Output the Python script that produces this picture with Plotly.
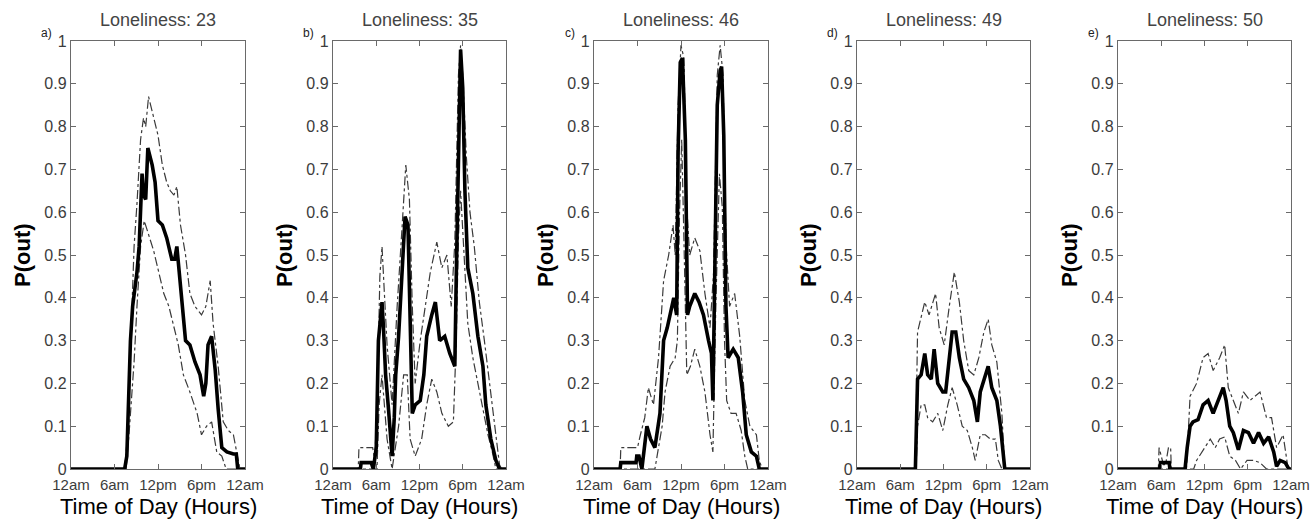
import plotly.graph_objects as go

# ---------------- data (hours of day, P(out)) ----------------
TITLES = ["Loneliness: 23", "Loneliness: 35", "Loneliness: 46", "Loneliness: 49", "Loneliness: 50"]
LETTERS = ["a)", "b)", "c)", "d)", "e)"]
HOUR_TICKS = [0, 6, 12, 18, 24]
HOUR_LABELS = ["12am", "6am", "12pm", "6pm", "12am"]
P_TICKS = [0, 0.1, 0.2, 0.3, 0.4, 0.5, 0.6, 0.7, 0.8, 0.9, 1]
P_LABELS = ["0", "0.1", "0.2", "0.3", "0.4", "0.5", "0.6", "0.7", "0.8", "0.9", "1"]

# panel a
a_mean_h = [0, 7.4, 7.7, 8.0, 8.2, 8.5, 8.8, 9.1, 9.4, 9.6, 9.8, 10.0, 10.3, 10.6, 10.9, 11.2, 11.6, 12.0, 12.6, 13.2, 13.9, 14.3, 14.6, 15.1, 15.5, 15.8, 16.4, 17.1, 17.8, 18.3, 18.6, 18.9, 19.4, 19.9, 20.3, 20.8, 21.5, 22.4, 22.8, 23.0, 24]
a_mean_v = [0, 0, 0.03, 0.2, 0.3, 0.38, 0.42, 0.46, 0.52, 0.6, 0.69, 0.64, 0.63, 0.75, 0.73, 0.71, 0.67, 0.58, 0.57, 0.54, 0.49, 0.49, 0.52, 0.43, 0.36, 0.30, 0.29, 0.25, 0.22, 0.17, 0.2, 0.29, 0.31, 0.23, 0.14, 0.05, 0.04, 0.035, 0.035, 0, 0]
a_up_h = [0, 7.4, 7.8, 8.2, 8.7, 9.1, 9.6, 10.0, 10.3, 10.7, 11.0, 11.4, 12.0, 12.6, 13.2, 13.7, 14.2, 14.6, 15.1, 15.8, 16.4, 17.1, 18.0, 18.6, 19.2, 19.6, 20.3, 21.0, 21.7, 22.4, 22.8, 23.3, 24]
a_up_v = [0, 0, 0.08, 0.3, 0.52, 0.62, 0.77, 0.82, 0.8, 0.87, 0.85, 0.82, 0.78, 0.71, 0.67, 0.65, 0.64, 0.66, 0.57, 0.5, 0.41, 0.38, 0.36, 0.38, 0.44, 0.34, 0.24, 0.11, 0.09, 0.08, 0.04, 0, 0]
a_lo_h = [0, 7.6, 8.0, 8.7, 9.1, 9.6, 10.1, 10.7, 11.4, 12.1, 12.8, 13.5, 14.2, 14.8, 15.5, 16.4, 17.4, 18.0, 18.7, 19.4, 20.1, 20.8, 21.4, 24]
a_lo_v = [0, 0, 0.08, 0.25, 0.38, 0.52, 0.58, 0.55, 0.51, 0.46, 0.41, 0.38, 0.33, 0.29, 0.22, 0.18, 0.13, 0.08, 0.1, 0.11, 0.04, 0.03, 0, 0]

# panel b
b_mean_h = [0, 3.8, 3.9, 5.3, 5.6, 6.0, 6.3, 6.6, 6.8, 7.0, 7.3, 7.7, 8.0, 8.2, 8.5, 8.7, 9.1, 9.6, 10.0, 10.4, 10.7, 11.0, 11.4, 12.1, 12.6, 13.0, 13.7, 14.2, 14.8, 15.5, 16.2, 16.9, 17.1, 17.4, 17.7, 18.0, 18.3, 18.7, 19.4, 20.1, 20.8, 21.2, 21.9, 22.6, 23.1, 24]
b_mean_v = [0, 0, 0.015, 0.015, 0, 0.05, 0.3, 0.37, 0.39, 0.33, 0.22, 0.14, 0.08, 0.03, 0.12, 0.22, 0.31, 0.47, 0.59, 0.57, 0.33, 0.13, 0.15, 0.16, 0.22, 0.31, 0.36, 0.39, 0.30, 0.31, 0.27, 0.24, 0.45, 0.77, 0.98, 0.89, 0.65, 0.47, 0.41, 0.31, 0.24, 0.15, 0.07, 0.02, 0, 0]
b_up_h = [0, 3.5, 3.6, 5.5, 5.8, 6.2, 6.5, 6.8, 7.1, 7.5, 8.2, 8.9, 9.6, 10.1, 10.6, 11.0, 11.4, 12.1, 12.8, 13.5, 14.4, 15.1, 15.8, 16.4, 16.9, 17.4, 17.7, 18.0, 18.5, 19.0, 19.6, 20.3, 21.0, 21.7, 22.4, 23.1, 23.4, 24]
b_up_v = [0, 0, 0.05, 0.05, 0.02, 0.2, 0.45, 0.52, 0.42, 0.29, 0.15, 0.38, 0.57, 0.71, 0.63, 0.38, 0.2, 0.30, 0.38, 0.46, 0.53, 0.47, 0.50, 0.38, 0.53, 0.92, 0.99, 0.92, 0.73, 0.60, 0.52, 0.39, 0.30, 0.2, 0.10, 0.01, 0, 0]
b_lo_h = [0, 6.1, 6.4, 6.8, 7.5, 8.2, 9.1, 9.8, 10.3, 10.7, 11.4, 12.3, 13.0, 13.7, 14.4, 15.1, 16.0, 16.7, 17.1, 17.4, 17.7, 18.2, 18.7, 19.4, 20.1, 20.8, 21.5, 22.1, 22.6, 24]
b_lo_v = [0, 0, 0.15, 0.22, 0.07, 0, 0.1, 0.22, 0.22, 0.07, 0.03, 0.07, 0.15, 0.21, 0.18, 0.13, 0.1, 0.11, 0.30, 0.54, 0.65, 0.5, 0.34, 0.26, 0.2, 0.14, 0.08, 0.04, 0, 0]

# panel c
c_mean_h = [0, 3.6, 3.7, 5.8, 5.9, 6.2, 6.6, 7.0, 7.3, 7.8, 8.4, 9.1, 9.6, 10.1, 10.6, 11.0, 11.4, 11.6, 11.9, 12.2, 12.6, 12.9, 13.2, 13.9, 14.5, 15.1, 15.8, 16.2, 16.4, 16.7, 17.0, 17.4, 17.6, 17.9, 18.2, 18.5, 19.2, 19.9, 20.5, 21.0, 21.7, 22.4, 22.8, 24]
c_mean_v = [0, 0, 0.015, 0.015, 0.03, 0.03, 0, 0.06, 0.1, 0.07, 0.05, 0.13, 0.3, 0.33, 0.37, 0.4, 0.36, 0.74, 0.95, 0.96, 0.77, 0.36, 0.38, 0.41, 0.39, 0.36, 0.3, 0.27, 0.16, 0.46, 0.85, 0.93, 0.94, 0.78, 0.38, 0.26, 0.28, 0.26, 0.18, 0.08, 0.04, 0.03, 0, 0]
c_up_h = [0, 3.6, 3.7, 6.0, 6.4, 7.0, 7.5, 8.2, 8.9, 9.6, 10.3, 10.9, 11.2, 11.6, 12.0, 12.4, 12.8, 13.2, 13.9, 14.6, 15.3, 16.0, 16.5, 17.0, 17.4, 17.8, 18.2, 18.7, 19.4, 20.1, 20.8, 21.5, 22.4, 22.8, 23.2, 24]
c_up_v = [0, 0, 0.05, 0.05, 0.08, 0.12, 0.19, 0.15, 0.26, 0.44, 0.5, 0.57, 0.5, 0.85, 0.99, 0.96, 0.61, 0.5, 0.54, 0.51, 0.41, 0.33, 0.46, 0.92, 0.99, 0.92, 0.53, 0.38, 0.41, 0.31, 0.16, 0.1, 0.08, 0.02, 0, 0]
c_lo_h = [0, 8.4, 8.7, 9.4, 9.8, 10.5, 11.2, 11.5, 11.8, 12.1, 12.4, 12.8, 13.3, 13.9, 14.6, 15.3, 16.0, 16.4, 16.8, 17.3, 17.7, 18.0, 18.3, 18.9, 19.6, 20.3, 20.8, 21.2, 24]
c_lo_v = [0, 0, 0.03, 0.1, 0.18, 0.24, 0.26, 0.3, 0.6, 0.77, 0.54, 0.22, 0.24, 0.28, 0.24, 0.18, 0.08, 0.04, 0.38, 0.69, 0.61, 0.3, 0.16, 0.13, 0.13, 0.09, 0.03, 0, 0]

# panel d
d_mean_h = [0, 8.1, 8.4, 8.9, 9.4, 9.8, 10.3, 10.7, 11.2, 11.9, 12.3, 12.8, 13.2, 13.7, 14.2, 14.8, 15.5, 16.2, 16.7, 17.1, 17.6, 18.2, 18.7, 19.4, 19.9, 20.3, 20.5, 24]
d_mean_v = [0, 0, 0.21, 0.22, 0.27, 0.22, 0.21, 0.28, 0.2, 0.18, 0.18, 0.26, 0.32, 0.32, 0.26, 0.21, 0.19, 0.16, 0.11, 0.18, 0.21, 0.24, 0.19, 0.16, 0.1, 0.03, 0, 0]
d_up_h = [0, 8.1, 8.4, 9.4, 10.0, 10.9, 11.4, 12.1, 12.8, 13.5, 14.2, 14.8, 15.5, 16.2, 16.9, 17.6, 18.2, 18.7, 19.4, 20.1, 20.5, 24]
d_up_v = [0, 0, 0.32, 0.39, 0.36, 0.41, 0.33, 0.29, 0.38, 0.46, 0.39, 0.30, 0.23, 0.22, 0.26, 0.32, 0.35, 0.29, 0.25, 0.13, 0, 0]
d_lo_h = [0, 8.2, 8.4, 8.9, 9.4, 9.8, 10.5, 11.2, 11.9, 12.6, 13.2, 13.9, 14.6, 15.3, 16.0, 16.4, 17.1, 17.8, 18.5, 19.2, 19.6, 20.1, 24]
d_lo_v = [0, 0, 0.1, 0.15, 0.15, 0.12, 0.11, 0.13, 0.09, 0.15, 0.19, 0.15, 0.1, 0.09, 0.05, 0.02, 0.08, 0.08, 0.07, 0.07, 0.02, 0, 0]

# panel e
e_mean_h = [0, 5.8, 5.9, 7.1, 7.2, 9.3, 9.6, 10.0, 10.4, 11.1, 11.8, 12.5, 13.2, 13.9, 14.6, 15.0, 15.5, 16.0, 16.7, 17.4, 18.1, 18.8, 19.5, 20.2, 20.9, 21.6, 22.0, 22.5, 23.2, 23.7, 24]
e_mean_v = [0, 0, 0.015, 0.015, 0, 0, 0.05, 0.1, 0.11, 0.115, 0.15, 0.16, 0.13, 0.16, 0.19, 0.16, 0.1, 0.085, 0.045, 0.09, 0.085, 0.06, 0.085, 0.06, 0.075, 0.04, 0.006, 0.02, 0.015, 0, 0]
e_up_h = [0, 5.6, 5.7, 6.3, 6.6, 7.0, 7.3, 7.4, 9.5, 10.0, 10.9, 11.8, 12.5, 13.2, 14.1, 14.8, 15.3, 16.0, 16.7, 17.4, 18.3, 19.0, 19.7, 20.6, 21.3, 22.0, 22.9, 23.6, 24]
e_up_v = [0, 0, 0.05, 0.01, 0.01, 0.05, 0.05, 0, 0, 0.17, 0.2, 0.26, 0.27, 0.23, 0.26, 0.29, 0.19, 0.16, 0.13, 0.18, 0.16, 0.17, 0.18, 0.12, 0.12, 0.05, 0.08, 0, 0]
e_lo_h = [0, 10.5, 10.9, 11.8, 12.8, 13.5, 14.1, 14.8, 15.5, 16.3, 17.0, 17.9, 18.8, 19.7, 20.6, 24]
e_lo_v = [0, 0, 0.02, 0.045, 0.07, 0.05, 0.07, 0.075, 0.03, 0.02, 0, 0.02, 0.02, 0.015, 0, 0]

PANELS = [
    ((a_mean_h, a_mean_v), (a_up_h, a_up_v), (a_lo_h, a_lo_v)),
    ((b_mean_h, b_mean_v), (b_up_h, b_up_v), (b_lo_h, b_lo_v)),
    ((c_mean_h, c_mean_v), (c_up_h, c_up_v), (c_lo_h, c_lo_v)),
    ((d_mean_h, d_mean_v), (d_up_h, d_up_v), (d_lo_h, d_lo_v)),
    ((e_mean_h, e_mean_v), (e_up_h, e_up_v), (e_lo_h, e_lo_v)),
]

# ---------------- layout ----------------
W, H = 1312, 521
X_PIX = [(71, 245), (333, 506), (594, 768), (857, 1030), (1118, 1291)]
Y_TOP, Y_BOT = 41, 469
FONT = "Arial, Liberation Sans, Helvetica, sans-serif"
AXC = "#6a6a6a"
TXT = "#3c3c3c"

fig = go.Figure()
annotations = []
for i, ((mh, mv), (uh, uv), (lh, lv)) in enumerate(PANELS):
    sfx = "" if i == 0 else str(i + 1)
    xa, ya = "x" + sfx, "y" + sfx
    for (hh, vv), w, dash, col in [((uh, uv), 1.2, "dashdot", "#3a3a3a"),
                                   ((lh, lv), 1.2, "dashdot", "#3a3a3a"),
                                   ((mh, mv), 3.6, "solid", "#000000")]:
        fig.add_trace(go.Scatter(x=hh, y=vv, mode="lines", xaxis=xa, yaxis=ya,
                                 line=dict(color=col, width=w, dash=dash),
                                 showlegend=False, hoverinfo="skip"))
    x0, x1 = X_PIX[i]
    common = dict(showline=True, linecolor=AXC, linewidth=1.4, mirror="ticks",
                  ticks="inside", ticklen=5, tickcolor=AXC, tickwidth=1,
                  showgrid=False, zeroline=False, automargin=False)
    fig.layout["xaxis" + sfx] = dict(domain=[x0 / W, x1 / W], range=[0, 24],
                                     tickvals=HOUR_TICKS, ticktext=HOUR_LABELS,
                                     tickfont=dict(size=15, color=TXT, family=FONT),
                                     ticklabelstandoff=2,
                                     anchor=ya, **common)
    fig.layout["yaxis" + sfx] = dict(domain=[1 - Y_BOT / H, 1 - Y_TOP / H], range=[0, 1],
                                     tickvals=P_TICKS, ticktext=P_LABELS,
                                     tickfont=dict(size=16, color=TXT, family=FONT),
                                     anchor=xa, **common)
    xc = (x0 + x1) / 2
    annotations.append(dict(text=TITLES[i], x=xc / W, y=1 - 20 / H, xref="paper", yref="paper",
                            xanchor="center", yanchor="middle", showarrow=False,
                            font=dict(size=18, color="#444444", family=FONT)))
    annotations.append(dict(text="Time of Day (Hours)", x=xc / W, y=1 - 506 / H, xref="paper",
                            yref="paper", xanchor="center", yanchor="middle", showarrow=False,
                            borderpad=0,
                            font=dict(size=22, color="#000000", family=FONT)))
    annotations.append(dict(text="<b>P(out)</b>", x=(x0 - 49) / W, y=1 - 255 / H, xref="paper",
                            yref="paper", xanchor="center", yanchor="middle", showarrow=False,
                            textangle=-90, font=dict(size=22, color="#000000", family=FONT)))
    annotations.append(dict(text=LETTERS[i], x=(x0 - 17) / W, y=1 - 33 / H, xref="paper",
                            yref="paper", xanchor="right", yanchor="middle", showarrow=False,
                            font=dict(size=12, color="#222222", family=FONT)))

fig.update_layout(width=W, height=H,
                  margin=dict(l=0, r=0, t=0, b=0, pad=0, autoexpand=False),
                  paper_bgcolor="white", plot_bgcolor="white",
                  annotations=annotations, font=dict(family=FONT))
# remove the browser's default page margin so the figure sits at the window origin
fig.write_html("out.html", config={"displayModeBar": False},
               post_script="document.body.style.margin='0';document.body.style.overflow='hidden';")
